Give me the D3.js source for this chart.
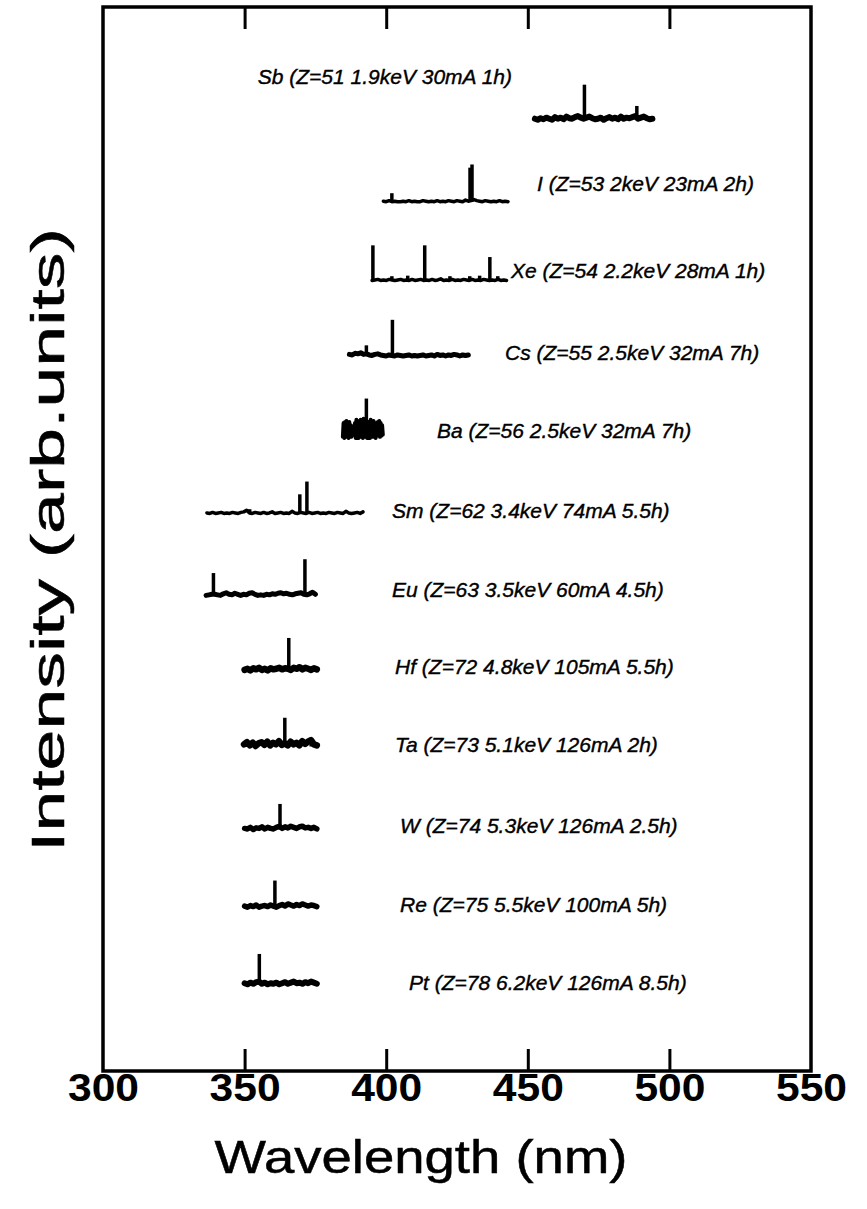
<!DOCTYPE html>
<html>
<head>
<meta charset="utf-8">
<script src="https://cdn.jsdelivr.net/npm/d3@7"></script>
<style>
  html, body { margin: 0; padding: 0; background: #fff; }
  svg { display: block; }
  text { font-family: "Liberation Sans", Arial, Helvetica, sans-serif; fill: #000; }
</style>
</head>
<body>
<svg id="chart" width="867" height="1209"></svg>
<script>
// ---- data -------------------------------------------------------------
const xTicks = [300, 350, 400, 450, 500, 550];

const elements = ["Sb", "I", "Xe", "Cs", "Ba", "Sm", "Eu", "Hf", "Ta", "W", "Re", "Pt"];

const labels = [
  "Sb (Z=51 1.9keV 30mA 1h)",
  "I (Z=53 2keV 23mA 2h)",
  "Xe (Z=54 2.2keV 28mA 1h)",
  "Cs (Z=55 2.5keV 32mA 7h)",
  "Ba (Z=56 2.5keV 32mA 7h)",
  "Sm (Z=62 3.4keV 74mA 5.5h)",
  "Eu (Z=63 3.5keV 60mA 4.5h)",
  "Hf (Z=72 4.8keV 105mA 5.5h)",
  "Ta (Z=73 5.1keV 126mA 2h)",
  "W (Z=74 5.3keV 126mA 2.5h)",
  "Re (Z=75 5.5keV 100mA 5h)",
  "Pt (Z=78 6.2keV 126mA 8.5h)"
];

// vertical offset of each trace (arb. units)
const offsets = [89.4, 81.7, 74.3, 67.2, 60.3, 52.4, 44.7, 37.6, 30.5, 22.7, 15.4, 8.1];

// recorded wavelength window of each trace [start, end] (nm)
const ranges = [
  [452.5, 494], [399, 443], [395, 442.5], [387, 429], [384.7, 398.8], [336.7, 391.8],
  [336.4, 375], [350, 375.5], [349.8, 375.5], [350, 375.5], [350, 375.5], [350, 375.5]
];

// background (continuum + noise) samples, evenly spread over each window
const baseSb = [0.1,0.0,0.15,0.05,0.2,0.1,0.0,0.25,0.1,0.2,0.05,0.3,0.15,0.1,0.25,0.35,0.2,0.1,0.2,0.3,0.15,0.05,0.1,0.2,0.0,0.15,0.25,0.1,0.2,0.05,0.3,0.1,0.2,0.15,0.25,0.35,0.1,0.2,0.3,0.15,0.05,0.1];
const baseI  = [0.05,0.0,0.1,0.0,0.05,0.0,0.0,0.05,0.0,0.1,0.0,0.05,0.0,0.0,0.1,0.05,0.0,0.05,0.0,0.1,0.0,0.05,0.0,0.1,0.05,0.0,0.1,0.05,0.0,0.15,0.05,0.1,0.2,0.1,0.05,0.0,0.1,0.05,0.0,0.05,0.0,0.1,0.0,0.05,0.0];
const baseXe = [0.0,0.05,0.1,0.0,0.05,0.0,0.1,0.05,0.0,0.05,0.1,0.0,0.05,0.0,0.1,0.0,0.05,0.1,0.0,0.05,0.0,0.1,0.0,0.05,0.15,0.0,0.05,0.0,0.1,0.0,0.05,0.0,0.1,0.05,0.0,0.1,0.0,0.05,0.0,0.1,0.05,0.0,0.05,0.0,0.1,0.0,0.05,0.0];
const baseCs = [0.15,0.1,0.25,0.2,0.3,0.15,0.2,0.1,0.05,0.15,0.2,0.1,0.05,0.0,0.1,0.05,0.0,0.1,0.05,0.0,0.05,0.1,0.0,0.05,0.0,0.05,0.1,0.0,0.05,0.1,0.0,0.15,0.05,0.1,0.0,0.1,0.05,0.15,0.1,0.0,0.1,0.05,0.1];
const baseBa = [-0.7,0.6,-0.8,0.7,-0.6,0.8,-0.7,0.5,-0.8,0.7,-0.6,0.4,-0.7,0.3,-0.5,0.2,-0.4,0.6,-0.8,0.9,-0.7,0.6,-0.8,0.8,-0.6,0.9,-0.7,0.5,-0.8,1.0,-0.6,0.8,-0.7,0.6,-0.8,0.7,-0.5,0.6,-0.8,0.9,-0.7,0.5,-0.6,0.8,-0.7,0.6,-0.8,0.5,-0.6,0.7,-0.5,0.8,-0.7,0.6,-0.6,0.4,-0.5];
const baseSm = [0.05,0.0,0.1,0.0,0.05,0.1,0.0,0.05,0.0,0.1,0.05,0.0,0.1,0.15,0.3,0.05,0.0,0.1,0.05,0.0,0.1,0.0,0.05,0.15,0.0,0.05,0.1,0.0,0.05,0.0,0.2,0.05,0.0,0.1,0.05,0.0,0.1,0.0,0.05,0.1,0.0,0.05,0.0,0.1,0.05,0.0,0.1,0.05,0.0,0.2,0.05,0.0,0.05,0.1,0.0,0.15];
const baseEu = [0.0,0.05,0.1,0.1,0.05,0.0,0.15,0.25,0.1,0.05,0.2,0.1,0.0,0.1,0.05,0.2,0.25,0.1,0.0,0.05,0.0,0.1,0.05,0.15,0.1,0.2,0.25,0.15,0.2,0.1,0.05,0.15,0.2,0.25,0.1,0.05,0.15,0.3,0.1];
const baseHf = [0.1,0.2,0.05,0.25,0.15,0.3,0.1,0.2,0.05,0.25,0.15,0.2,0.3,0.15,0.25,0.2,0.1,0.3,0.2,0.35,0.15,0.3,0.2,0.1,0.25,0.15];
const baseTa = [0.2,0.4,0.1,0.35,0.05,0.3,0.4,0.15,0.45,0.1,0.35,0.2,0.5,0.15,0.3,0.1,0.45,0.2,0.35,0.1,0.5,0.25,0.45,0.6,0.2,0.1];
const baseW  = [0.1,0.05,0.2,0.0,0.15,0.1,0.25,0.05,0.2,0.1,0.05,0.2,0.3,0.1,0.25,0.15,0.3,0.2,0.1,0.25,0.3,0.15,0.2,0.1,0.2,0.05];
const baseRe = [0.1,0.0,0.15,0.05,0.2,0.0,0.1,0.15,0.05,0.2,0.1,0.0,0.15,0.25,0.1,0.3,0.2,0.1,0.25,0.15,0.3,0.2,0.1,0.2,0.15,0.05];
const basePt = [0.15,0.05,0.2,0.1,0.25,0.3,0.1,0.2,0.05,0.15,0.1,0.2,0.05,0.15,0.25,0.1,0.2,0.3,0.15,0.2,0.1,0.25,0.15,0.3,0.2,0.1];

const backgrounds = [baseSb, baseI, baseXe, baseCs, baseBa, baseSm, baseEu, baseHf, baseTa, baseW, baseRe, basePt];

// emission lines: [wavelength nm, height above background]
const linesSb = [[470, 3.3], [488.5, 1.3]];
const linesI  = [[402, 0.8], [429.6, 3.2], [430.3, 3.5]];
const linesXe = [[395.3, 3.3], [402, 0.4], [407.6, 0.45], [413.6, 3.3], [422.5, 0.4], [429.5, 0.4], [433, 0.45], [436.6, 2.2], [439.4, 0.4]];
const linesCs = [[393, 1.0], [402.2, 3.4]];
const linesBa = [[393, 2.9]];
const linesSm = [[351.8, 0.4], [369.5, 1.8], [372, 3.0]];
const linesEu = [[339, 2.1], [371.3, 3.4]];
const linesHf = [[365.6, 3.1]];
const linesTa = [[364.2, 2.7], [373.5, 0.8]];
const linesW  = [[362.5, 2.4]];
const linesRe = [[360.7, 2.5]];
const linesPt = [[355.2, 2.9]];

const emissionLines = [linesSb, linesI, linesXe, linesCs, linesBa, linesSm, linesEu, linesHf, linesTa, linesW, linesRe, linesPt];

// ---- layout -------------------------------------------------------------
const W = 867, H = 1209;
const margin = { left: 103, right: 56, top: 7, bottom: 138 };
const plotW = W - margin.left - margin.right;
const plotH = H - margin.top - margin.bottom;

// label anchors: [x px from plot left, y px from plot top, anchor]
const labelPlace = [
  [409, 71, "end"], [434, 178, "start"], [408, 265, "start"], [402, 347, "start"],
  [334, 425, "start"], [289, 505, "start"], [289, 584, "start"], [292, 661, "start"],
  [292, 739, "start"], [297, 820, "start"], [297, 899, "start"], [306, 977, "start"]
];

// trace thickness per element (px)
const traceWidth = { Sb: 6, I: 3.5, Xe: 3.5, Cs: 5, Ba: 4, Sm: 3.5, Eu: 5, Hf: 6.5, Ta: 6.5, W: 5.5, Re: 5.5, Pt: 6 };

const svg = d3.select("#chart");
const g = svg.append("g").attr("transform", `translate(${margin.left},${margin.top})`);

const x = d3.scaleLinear().domain([300, 550]).range([0, plotW]);
const y = d3.scaleLinear().domain([0, 100]).range([plotH, 0]);

// frame
g.append("rect")
  .attr("x", 0).attr("y", 0).attr("width", plotW).attr("height", plotH)
  .attr("fill", "none").attr("stroke", "#000").attr("stroke-width", 3.5);

// inward ticks on bottom and top
const bottomAxis = d3.axisBottom(x).tickValues(xTicks).tickSizeInner(-22).tickSizeOuter(0).tickPadding(3);
const ax = g.append("g").attr("transform", `translate(0,${plotH})`).call(bottomAxis);
ax.select(".domain").remove();
ax.selectAll(".tick line").attr("stroke", "#000").attr("stroke-width", 3)
  .filter(d => d === 300 || d === 550).remove();
ax.selectAll(".tick text")
  .attr("font-size", 38).attr("font-weight", "bold")
  .attr("font-family", "Liberation Sans, Arial, sans-serif")
  .attr("textLength", 71).attr("lengthAdjust", "spacingAndGlyphs");

const topAxis = d3.axisTop(x).tickValues(xTicks.slice(1, -1)).tickSizeInner(-22).tickSizeOuter(0).tickFormat("");
const axT = g.append("g").call(topAxis);
axT.select(".domain").remove();
axT.selectAll(".tick line").attr("stroke", "#000").attr("stroke-width", 3);

// axis titles
svg.append("text")
  .attr("x", 421).attr("y", 1173)
  .attr("text-anchor", "middle").attr("font-size", 46)
  .attr("stroke", "#000").attr("stroke-width", 0.5)
  .attr("textLength", 413).attr("lengthAdjust", "spacingAndGlyphs")
  .text("Wavelength (nm)");

svg.append("text")
  .attr("transform", `translate(64,${540}) rotate(-90)`)
  .attr("text-anchor", "middle").attr("font-size", 46)
  .attr("stroke", "#000").attr("stroke-width", 0.5)
  .attr("textLength", 624).attr("lengthAdjust", "spacingAndGlyphs")
  .text("Intensity (arb.units)");

// spectra
const line = d3.line().x(d => x(d[0])).y(d => y(d[1]));

elements.forEach((el, i) => {
  const [lo, hi] = ranges[i];
  const bg = backgrounds[i];
  const idx = d3.scaleLinear().domain([0, bg.length - 1]).range([lo, hi]);
  const pts = bg.map((v, k) => [idx(k), offsets[i] + v]);
  const sg = g.append("g").attr("class", "spectrum " + el);

  sg.append("path")
    .attr("d", line(pts))
    .attr("fill", "none").attr("stroke", "#000")
    .attr("stroke-width", traceWidth[el])
    .attr("stroke-linejoin", "round").attr("stroke-linecap", "round");

  sg.selectAll("line.peak")
    .data(emissionLines[i])
    .join("line")
    .attr("class", "peak")
    .attr("x1", d => x(d[0])).attr("x2", d => x(d[0]))
    .attr("y1", y(offsets[i])).attr("y2", d => y(offsets[i] + d[1]))
    .attr("stroke", "#000").attr("stroke-width", 3.5);

  const lp = labelPlace[i];
  g.append("text")
    .attr("x", lp[0]).attr("y", lp[1])
    .attr("text-anchor", lp[2])
    .attr("dominant-baseline", "middle")
    .attr("font-size", 21).attr("font-style", "italic")
    .attr("stroke", "#000").attr("stroke-width", 0.4)
    .text(labels[i]);
});
</script>
</body>
</html>
